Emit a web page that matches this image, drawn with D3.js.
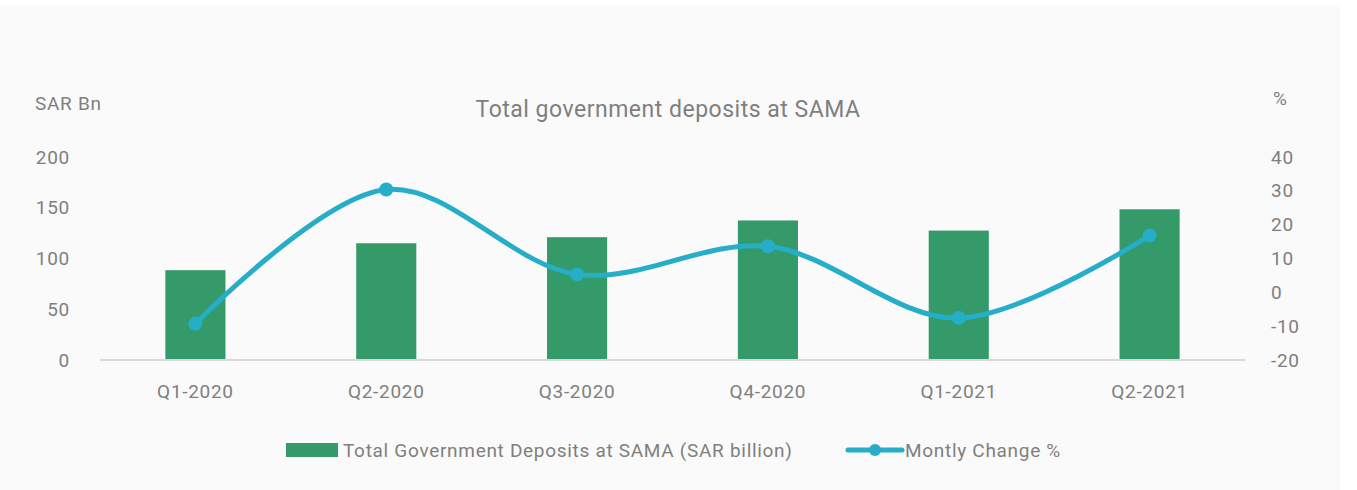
<!DOCTYPE html>
<html>
<head>
<meta charset="utf-8">
<script src="https://cdn.jsdelivr.net/npm/d3@7"></script>
<style>
body { margin: 0; background: #fff; }
text { font-family: Roboto, "DejaVu Sans", sans-serif; fill: #7f7f7f; letter-spacing: 0.7px; }
</style>
</head>
<body>
<div id="chart"></div>
<script>
const width = 1357,
height = 490,
margin = {top: 157, right: 112, bottom: 130, left: 100};

const quarters = ["Q1-2020", "Q2-2020", "Q3-2020", "Q4-2020", "Q1-2021", "Q2-2021"];
const deposits = [88.5, 115, 121, 137.5, 127.5, 148.5];
const change = [-9.3, 30.4, 5.3, 13.6, -7.6, 16.8];
const leftTicks = [0, 50, 100, 150, 200];
const rightTicks = [-20, -10, 0, 10, 20, 30, 40];

const svg = d3.select("#chart")
.append("svg")
.attr("width", width)
.attr("height", height);

// panel background
svg.append("rect")
.attr("x", 0).attr("y", 5)
.attr("width", 1340).attr("height", height - 5)
.attr("fill", "#fafafa");

let x = d3.scaleBand(quarters, [margin.left, width - margin.right])
.paddingInner(0.685)
.paddingOuter(0.3425);

let y = d3.scaleLinear([0, 200], [height - margin.bottom, margin.top]);
let y2 = d3.scaleLinear([-20, 40], [height - margin.bottom, margin.top]);

// left axis
svg.append("g")
.attr("transform", `translate(${margin.left - 30},0)`)
.call(d3.axisLeft(y).tickValues(leftTicks).tickSize(0).tickPadding(0))
.call(g => g.select(".domain").remove())
.selectAll("text")
.attr("font-size", 19)
.attr("fill", "#7f7f7f");

// right axis (plain hyphen for negatives, like the original)
svg.append("g")
.attr("transform", `translate(${width - margin.right + 26},0)`)
.call(d3.axisRight(y2).tickValues(rightTicks).tickFormat(d => String(d)).tickSize(0).tickPadding(0))
.call(g => g.select(".domain").remove())
.selectAll("text")
.attr("font-size", 19)
.attr("fill", "#7f7f7f");

// bars
svg.append("g")
.selectAll("rect")
.data(quarters)
.join("rect")
.attr("x", d => x(d))
.attr("y", (d, i) => y(deposits[i]))
.attr("width", x.bandwidth())
.attr("height", (d, i) => y(0) - y(deposits[i]))
.attr("fill", "#359a69");

// baseline
svg.append("line")
.attr("x1", margin.left).attr("x2", width - margin.right)
.attr("y1", y(0)).attr("y2", y(0))
.attr("stroke", "#d9d9d9")
.attr("stroke-width", 2);

// x axis labels
svg.append("g")
.attr("transform", `translate(0,${y(0) + 24})`)
.call(d3.axisBottom(x).tickSize(0).tickPadding(0))
.call(g => g.select(".domain").remove())
.selectAll("text")
.attr("font-size", 19)
.attr("fill", "#7f7f7f");

// line
const cx = d => x(d) + x.bandwidth() / 2;
const line = d3.line()
.x(d => cx(d))
.y((d, i) => y2(change[i]))
.curve(d3.curveCatmullRom.alpha(0.5));

svg.append("path")
.datum(quarters)
.attr("fill", "none")
.attr("stroke", "#26adc7")
.attr("stroke-width", 5)
.attr("d", line);

svg.append("g")
.selectAll("circle")
.data(quarters)
.join("circle")
.attr("cx", d => cx(d))
.attr("cy", (d, i) => y2(change[i]))
.attr("r", 7)
.attr("fill", "#26adc7");

// titles
svg.append("text")
.attr("x", 668).attr("y", 117)
.attr("text-anchor", "middle")
.attr("font-size", 23)
.style("letter-spacing", "0.5px")
.text("Total government deposits at SAMA");

svg.append("text")
.attr("x", 35).attr("y", 110)
.attr("font-size", 19)
.text("SAR Bn");

svg.append("text")
.attr("x", 1273).attr("y", 105)
.attr("font-size", 19)
.text("%");

// legend
const legend = svg.append("g");
legend.append("rect")
.attr("x", 286).attr("y", 443)
.attr("width", 52).attr("height", 14)
.attr("fill", "#359a69");
legend.append("text")
.attr("x", 343).attr("y", 457)
.attr("font-size", 19)
.text("Total Government Deposits at SAMA (SAR billion)");
legend.append("line")
.attr("x1", 848).attr("x2", 902)
.attr("y1", 450).attr("y2", 450)
.attr("stroke", "#26adc7")
.attr("stroke-width", 5)
.attr("stroke-linecap", "round");
legend.append("circle")
.attr("cx", 875).attr("cy", 450)
.attr("r", 6)
.attr("fill", "#26adc7");
legend.append("text")
.attr("x", 905).attr("y", 457)
.attr("font-size", 19)
.text("Montly Change %");
</script>
</body>
</html>
